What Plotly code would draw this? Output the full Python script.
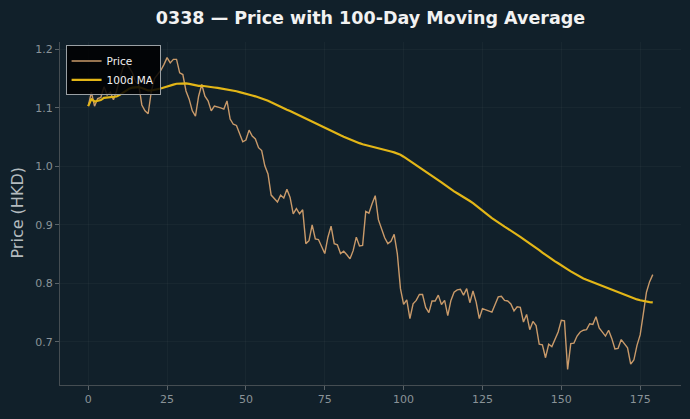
import plotly.graph_objects as go
import pandas as pd

price = [
    1.103, 1.127, 1.103, 1.116, 1.118, 1.136, 1.122, 1.127, 1.114, 1.129,
    1.150, 1.168, 1.178, 1.170, 1.160, 1.145, 1.140, 1.105, 1.095, 1.090,
    1.128, 1.150, 1.157, 1.164, 1.174, 1.186, 1.177, 1.183, 1.183, 1.160,
    1.157, 1.129, 1.115, 1.095, 1.086, 1.120, 1.140, 1.120, 1.112, 1.095,
    1.103, 1.102, 1.100, 1.098, 1.112, 1.081, 1.072, 1.070, 1.055, 1.042,
    1.045, 1.062, 1.052, 1.047, 1.032, 1.027, 1.001, 0.987, 0.951, 0.944,
    0.939, 0.951, 0.946, 0.961, 0.947, 0.919, 0.928, 0.919, 0.926, 0.868,
    0.873, 0.900, 0.876, 0.875, 0.862, 0.851, 0.879, 0.898, 0.868, 0.866,
    0.851, 0.855, 0.849, 0.842, 0.856, 0.879, 0.864, 0.865, 0.923, 0.920,
    0.936, 0.950, 0.909, 0.892, 0.878, 0.868, 0.872, 0.884, 0.851, 0.791,
    0.764, 0.772, 0.740, 0.765, 0.771, 0.781, 0.781, 0.759, 0.750, 0.770,
    0.770, 0.780, 0.764, 0.771, 0.745, 0.771, 0.785, 0.789, 0.790, 0.780,
    0.791, 0.767, 0.787, 0.768, 0.740, 0.757, 0.755, 0.754, 0.751, 0.764,
    0.777, 0.778, 0.771, 0.770, 0.765, 0.753, 0.760, 0.759, 0.734, 0.747,
    0.721, 0.735, 0.728, 0.696, 0.695, 0.673, 0.696, 0.692, 0.704, 0.717,
    0.737, 0.736, 0.653, 0.697, 0.698, 0.710, 0.717, 0.720, 0.721, 0.731,
    0.730, 0.743, 0.724, 0.717, 0.710, 0.720, 0.706, 0.688, 0.689, 0.704,
    0.696, 0.690, 0.662, 0.669, 0.694, 0.712, 0.748, 0.785, 0.803, 0.815,
]
ma_window = 100
x_ticks = [0, 25, 50, 75, 100, 125, 150, 175]
y_ticks = [0.7, 0.8, 0.9, 1.0, 1.1, 1.2]

x = list(range(len(price)))
ma = pd.Series(price).rolling(ma_window, min_periods=1).mean().tolist()

BG = "#11202a"
FONT = "DejaVu Sans"

xmin, xmax = 0, len(price) - 1
xpad = (xmax - xmin) * 0.05
ymin, ymax = min(price + ma), max(price + ma)
ypad = (ymax - ymin) * 0.05

fig = go.Figure()
fig.add_trace(go.Scatter(x=x, y=price, mode="lines", name="Price",
                         line=dict(color="#c99a6a", width=1.4)))
fig.add_trace(go.Scatter(x=x, y=ma, mode="lines", name="100d MA",
                         line=dict(color="#e3b617", width=2.2)))

fig.update_layout(
    width=690, height=419,
    paper_bgcolor=BG, plot_bgcolor=BG,
    margin=dict(l=60, r=9, t=42, b=34),
    font=dict(family=FONT, color="#8a9398", size=11),
    title=dict(text="<b>0338 — Price with 100-Day Moving Average</b>",
               x=0.5, xref="paper", xanchor="center",
               y=1 - 18 / 419, yref="container", yanchor="middle",
               font=dict(family=FONT, size=17.5, color="#f2f2f2")),
    showlegend=True,
    legend=dict(x=0.009, y=0.99, xref="paper", yref="paper",
                xanchor="left", yanchor="top",
                bgcolor="rgba(0,0,0,0.85)", bordercolor="#9aa0a4", borderwidth=1,
                font=dict(family=FONT, size=10.5, color="#f2f2f2"),
                itemwidth=30, tracegroupgap=0),
    annotations=[dict(text="Price (HKD)", textangle=-90,
                      x=(17 - 60) / 621, xref="paper", xanchor="center",
                      y=0.5, yref="paper", yanchor="middle", showarrow=False,
                      font=dict(family=FONT, size=16, color="#b4bbbf"))],
)
fig.update_xaxes(range=[xmin - xpad, xmax + xpad], tickvals=x_ticks,
                 showgrid=True, gridcolor="rgba(255,255,255,0.03)", gridwidth=1,
                 zeroline=False, showline=True, linecolor="#454d52", linewidth=1,
                 ticks="outside", ticklen=4, tickcolor="#5a6368",
                 tickfont=dict(family=FONT, size=11, color="#8a9398"))
fig.update_yaxes(range=[ymin - ypad, ymax + ypad], tickvals=y_ticks,
                 tickformat=".1f",
                 showgrid=True, gridcolor="rgba(255,255,255,0.03)", gridwidth=1,
                 zeroline=False, showline=True, linecolor="#454d52", linewidth=1,
                 ticks="outside", ticklen=4, tickcolor="#5a6368",
                 tickfont=dict(family=FONT, size=11, color="#8a9398"))

fig.write_html("out.html")
